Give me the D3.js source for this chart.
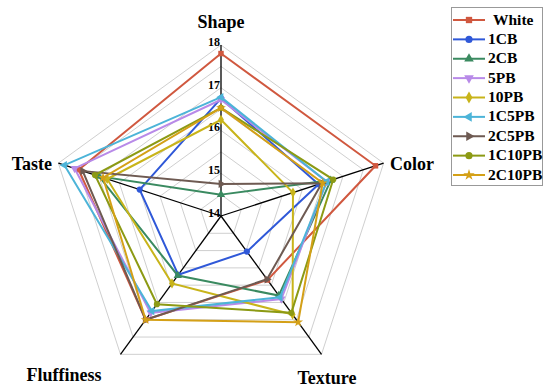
<!DOCTYPE html>
<html>
<head>
<meta charset="utf-8">
<script src="https://cdn.jsdelivr.net/npm/d3@7"></script>
<style>
  body { margin: 0; background: #fff; }
  text { font-family: "Times New Roman", "Liberation Serif", serif; font-weight: bold; }
</style>
</head>
<body>
<div id="chart"></div>
<script>
// axes, clockwise from the top
const axes = ["Shape", "Color", "Texture", "Fluffiness", "Taste"];
const seriesNames = ["White", "1CB", "2CB", "5PB", "10PB", "1C5PB", "2C5PB", "1C10PB", "2C10PB"];
const white  = [17.80, 17.80, 15.85, 17.00, 17.50];
const cb1    = [16.75, 16.40, 15.03, 15.70, 16.00];
const cb2    = [14.50, 16.70, 16.30, 15.72, 17.00];
const pb5    = [16.72, 16.60, 16.40, 16.80, 17.60];
const pb10   = [16.25, 15.77, 16.85, 15.95, 16.80];
const c1pb5  = [16.78, 16.60, 16.35, 16.75, 17.85];
const c2pb5  = [14.75, 16.48, 15.83, 17.00, 17.40];
const c1pb10 = [16.53, 16.76, 16.80, 16.55, 17.10];
const c2pb10 = [16.53, 16.50, 17.07, 17.00, 16.90];
const tickValues = [14, 15, 16, 17, 18];
const gridLevels = [14.5, 15, 15.5, 16, 16.5, 17, 17.5, 18];

const values = [white, cb1, cb2, pb5, pb10, c1pb5, c2pb5, c1pb10, c2pb10];
const colors = ["#d0583f", "#2f58d8", "#3a8a60", "#b88ae8", "#c8b41a", "#4cb4d8", "#6e5a52", "#8c9a14", "#d4a017"];
const symbols = [d3.symbolSquare, d3.symbolCircle, d3.symbolTriangle, "tridown", d3.symbolDiamond, "trileft", "triright", d3.symbolCircle, d3.symbolStar];

const width = 550, height = 388;
const cx = 221, cy = 216, R = 171;

const svg = d3.select("#chart").append("svg")
    .attr("width", width)
    .attr("height", height);

const r = d3.scaleLinear().domain([14, 18]).range([0, R]);
const angle = i => -Math.PI / 2 + i * 2 * Math.PI / axes.length;
const pt = (v, i) => [cx + r(v) * Math.cos(angle(i)), cy + r(v) * Math.sin(angle(i))];

// grid rings
svg.append("g")
    .selectAll("polygon")
    .data(gridLevels)
    .enter()
    .append("polygon")
    .attr("points", d => axes.map((a, i) => pt(d, i).join(",")).join(" "))
    .attr("fill", "none")
    .attr("stroke", "#cfcfcf")
    .attr("stroke-width", 1);

// spokes
svg.append("g")
    .selectAll("line")
    .data(axes)
    .enter()
    .append("line")
    .attr("x1", cx).attr("y1", cy)
    .attr("x2", (d, i) => pt(18, i)[0])
    .attr("y2", (d, i) => pt(18, i)[1])
    .attr("stroke", "#000")
    .attr("stroke-width", 1.3);

// tick labels on the Shape axis
svg.append("g")
    .selectAll("text")
    .data(tickValues)
    .enter()
    .append("text")
    .attr("x", cx - 1)
    .attr("y", d => cy - r(d) - 2)
    .attr("text-anchor", "end")
    .attr("dominant-baseline", "middle")
    .attr("font-size", 12)
    .text(d => d);

// axis names
const labelPos = [
    {x: cx, y: 28, anchor: "middle"},
    {x: 390, y: 170, anchor: "start"},
    {x: 327, y: 384, anchor: "middle"},
    {x: 64, y: 381, anchor: "middle"},
    {x: 52, y: 170, anchor: "end"}
];
svg.append("g")
    .selectAll("text")
    .data(axes)
    .enter()
    .append("text")
    .attr("x", (d, i) => labelPos[i].x)
    .attr("y", (d, i) => labelPos[i].y)
    .attr("text-anchor", (d, i) => labelPos[i].anchor)
    .attr("font-size", 18)
    .text(d => d);

function markerPath(s, size) {
    if (s === "tridown" || s === "trileft" || s === "triright") return d3.symbol(d3.symbolTriangle, size)();
    return d3.symbol(s, size)();
}
function markerRot(s) {
    if (s === "tridown") return 180;
    if (s === "trileft") return -90;
    if (s === "triright") return 90;
    return 0;
}

const line = d3.line().curve(d3.curveLinearClosed);

// series
const series = svg.append("g")
    .selectAll("g")
    .data(values)
    .enter()
    .append("g");

series.append("path")
    .attr("d", d => line(d.map((v, i) => pt(v, i))))
    .attr("fill", "none")
    .attr("stroke", (d, k) => colors[k])
    .attr("stroke-width", 2);

series.each(function(d, k) {
    d3.select(this).selectAll("path.mk")
        .data(d)
        .enter()
        .append("path")
        .attr("class", "mk")
        .attr("d", markerPath(symbols[k], 30))
        .attr("transform", (v, i) => "translate(" + pt(v, i) + ") rotate(" + markerRot(symbols[k]) + ")")
        .attr("fill", colors[k]);
});

// legend
const lg = svg.append("g");
lg.append("rect")
    .attr("x", 451.5).attr("y", 7.5)
    .attr("width", 91).attr("height", 178)
    .attr("fill", "#fff")
    .attr("stroke", "#999");

const rowY = d3.scalePoint().domain(seriesNames).range([20, 175]);
const items = lg.selectAll("g.item")
    .data(seriesNames)
    .enter()
    .append("g")
    .attr("class", "item")
    .attr("transform", d => "translate(0," + rowY(d) + ")");

items.append("line")
    .attr("x1", 453).attr("x2", 485)
    .attr("stroke", (d, k) => colors[k])
    .attr("stroke-width", 2);
items.append("path")
    .attr("d", (d, k) => markerPath(symbols[k], 40))
    .attr("transform", (d, k) => "translate(469,0) rotate(" + markerRot(symbols[k]) + ")")
    .attr("fill", (d, k) => colors[k]);
items.append("text")
    .attr("x", (d, k) => k === 0 ? 493 : 488)
    .attr("y", 1)
    .attr("dominant-baseline", "middle")
    .attr("font-size", 15.5)
    .text(d => d);
</script>
</body>
</html>
